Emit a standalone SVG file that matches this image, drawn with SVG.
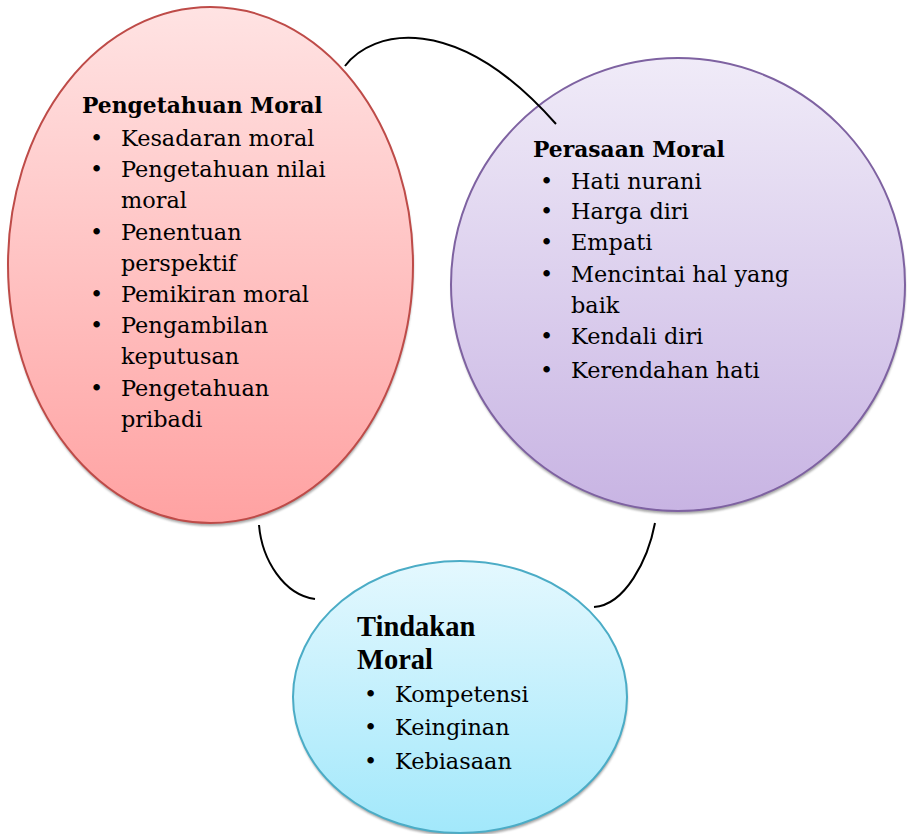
<svg xmlns="http://www.w3.org/2000/svg" width="907" height="834" viewBox="0 0 907 834">
<style>
.t{font-family:"DejaVu Serif","Liberation Serif",serif;font-size:22.4px;fill:#000}
.h{font-family:"DejaVu Serif","Liberation Serif",serif;font-size:21.8px;font-weight:bold;fill:#000}
.h2{font-family:"Liberation Serif","Times New Roman",serif;font-size:28.5px;font-weight:bold;fill:#000}
.sh{fill:#8a8a8a;opacity:0.75}
.conn{fill:none;stroke:#000;stroke-width:2}
</style>
<defs>
<linearGradient id="gr" x1="0" y1="0" x2="0" y2="1"><stop offset="0" stop-color="#FFE3E3"/><stop offset="1" stop-color="#FFA2A2"/></linearGradient>
<linearGradient id="gp" x1="0" y1="0" x2="0" y2="1"><stop offset="0" stop-color="#F0EBF8"/><stop offset="1" stop-color="#C8B4E3"/></linearGradient>
<linearGradient id="gb" x1="0" y1="0" x2="0" y2="1"><stop offset="0" stop-color="#E4F8FE"/><stop offset="1" stop-color="#A2E8FB"/></linearGradient>
<filter id="blur" x="-5%" y="-5%" width="110%" height="110%"><feGaussianBlur stdDeviation="1.2"/></filter>
</defs>
<g id="node-pengetahuan">
<ellipse class="sh" filter="url(#blur)" cx="211" cy="268" rx="202.5" ry="258"/>
<ellipse cx="210.5" cy="265" rx="202.5" ry="258" fill="url(#gr)" stroke="#BE4B48" stroke-width="2"/>
<text class="h" x="82" y="113">Pengetahuan Moral</text>
<g class="t">
<text x="90" y="146">•</text><text x="121" y="146">Kesadaran moral</text>
<text x="90" y="177">•</text><text x="121" y="177">Pengetahuan nilai</text>
<text x="121" y="208">moral</text>
<text x="90" y="240">•</text><text x="121" y="240">Penentuan</text>
<text x="121" y="271">perspektif</text>
<text x="90" y="302">•</text><text x="121" y="302">Pemikiran moral</text>
<text x="90" y="333">•</text><text x="121" y="333">Pengambilan</text>
<text x="121" y="364">keputusan</text>
<text x="90" y="396">•</text><text x="121" y="396">Pengetahuan</text>
<text x="121" y="427">pribadi</text>
</g>
</g>
<g id="node-perasaan">
<ellipse class="sh" filter="url(#blur)" cx="678.5" cy="287.5" rx="227" ry="226.5"/>
<ellipse cx="678" cy="284.5" rx="227" ry="226.5" fill="url(#gp)" stroke="#7E62A1" stroke-width="2"/>
<text class="h" x="533" y="157">Perasaan Moral</text>
<g class="t">
<text x="540" y="189">•</text><text x="571" y="189">Hati nurani</text>
<text x="540" y="219">•</text><text x="571" y="219">Harga diri</text>
<text x="540" y="250">•</text><text x="571" y="250">Empati</text>
<text x="540" y="282">•</text><text x="571" y="282">Mencintai hal yang</text>
<text x="571" y="313">baik</text>
<text x="540" y="344">•</text><text x="571" y="344">Kendali diri</text>
<text x="540" y="378">•</text><text x="571" y="378">Kerendahan hati</text>
</g>
</g>
<g id="node-tindakan">
<ellipse class="sh" filter="url(#blur)" cx="460.5" cy="700" rx="167" ry="136"/>
<ellipse cx="460" cy="697" rx="167" ry="136" fill="url(#gb)" stroke="#4BACC6" stroke-width="2"/>
<text class="h2" x="357" y="636">Tindakan</text>
<text class="h2" x="357" y="669">Moral</text>
<g class="t">
<text x="364" y="702">•</text><text x="395" y="702">Kompetensi</text>
<text x="364" y="735">•</text><text x="395" y="735">Keinginan</text>
<text x="364" y="769">•</text><text x="395" y="769">Kebiasaan</text>
</g>
</g>
<g id="connectors">
<path class="conn" d="M345,66 C372,30 455,10 556,124"/>
<path class="conn" d="M259,525 C262,560 284,595 315,599"/>
<path class="conn" d="M655,523 C648,560 625,605 594,607"/>
</g>
</svg>
